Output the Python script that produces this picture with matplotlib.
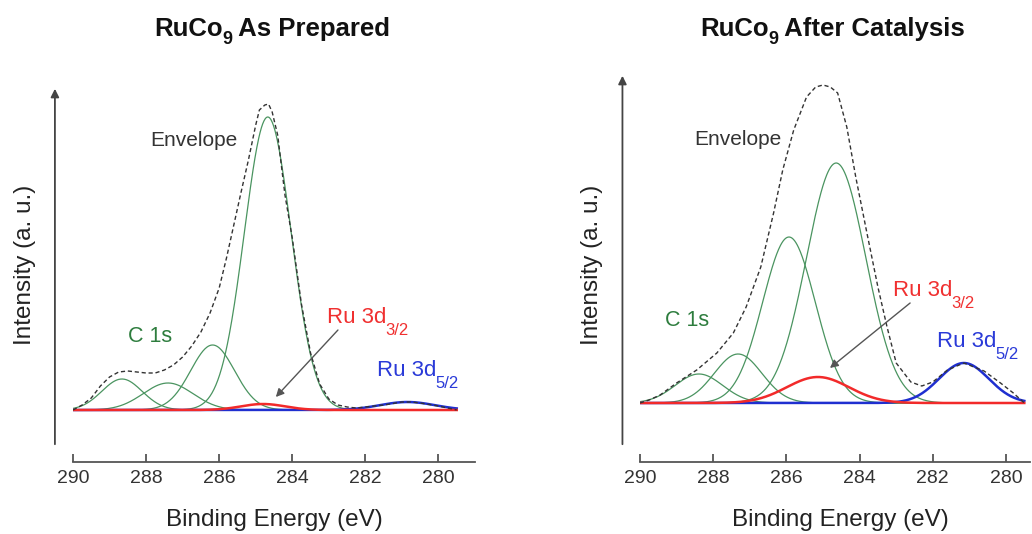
import numpy as np
import matplotlib
matplotlib.use('Agg')
import matplotlib.pyplot as plt

plt.rcParams['font.family'] = ['Liberation Sans', 'DejaVu Sans']

# fitted components: centre (eV), height (a.u.), gaussian sigma (eV)
left_c1s_center = [288.66, 287.40, 286.18, 284.67]
left_c1s_height = [31, 27, 65, 293]
left_c1s_sigma = [0.55, 0.68, 0.60, 0.64]
left_ru32 = (284.80, 6, 0.60)
left_ru52 = (280.85, 8, 0.75)

right_c1s_center = [288.39, 287.32, 285.93, 284.64]
right_c1s_height = [29, 49, 166, 240]
right_c1s_sigma = [0.65, 0.65, 0.72, 0.81]
right_ru32 = (285.14, 26, 0.85)
right_ru52 = (281.15, 40, 0.68)

# envelope
left_env_e = [290.0, 289.75, 289.5, 289.25, 289.0, 288.75, 288.5, 288.25, 288.0, 287.75,
              287.5, 287.25, 287.0, 286.75, 286.5, 286.25, 286.0, 285.8, 285.6, 285.4,
              285.2, 285.0, 284.9, 284.75, 284.65, 284.55, 284.4, 284.2, 284.0, 283.75,
              283.5, 283.25, 283.0, 282.75, 282.5, 282.25, 282.0, 281.5, 281.0, 280.75,
              280.5, 280.0, 279.5]
left_env_i = [0, 5, 12, 24, 33, 38, 39, 38, 37, 37,
              40, 45, 53, 64, 78, 97, 122, 152, 185, 218,
              250, 285, 300, 305, 306, 298, 275, 215, 172, 106,
              57, 26, 11, 5, 3, 2, 3, 5, 8, 8,
              7, 4, 0]

right_env_e = [290.0, 289.75, 289.45, 289.0, 288.45, 287.9, 287.45, 287.1, 286.7, 286.35,
               286.1, 285.8, 285.45, 285.2, 285.0, 284.8, 284.6, 284.35, 284.1, 283.8,
               283.5, 283.25, 283.0, 282.6, 282.3, 282.0, 281.6, 281.15, 280.6, 280.15,
               279.8, 279.5]
right_env_i = [0, 3, 8, 20, 33, 50, 70, 96, 136, 190,
               233, 273, 306, 316, 318, 316, 310, 276, 225, 170,
               116, 76, 40, 21, 17, 21, 33, 40, 32, 20,
               10, 0]

ticks = [290, 288, 286, 284, 282, 280]
titles = [('RuCo', '9', ' As Prepared'), ('RuCo', '9', ' After Catalysis')]

GREEN = '#4a9460'
RED = '#f22a2a'
BLUE = '#1f2fd0'
W, H = 1032, 534


def gauss(x, c, h, s):
    return h * np.exp(-(x - c) ** 2 / (2 * s ** 2))


def sub_label(ax, x, y, main, sub, color, size, subsize, drop):
    t = ax.text(x, y, main, fontsize=size, color=color, ha='left', va='baseline')
    ax.annotate(sub, xy=(1, 0), xycoords=t, xytext=(-0.5, -drop), textcoords='offset points',
                fontsize=subsize, color=color, ha='left', va='center')


def panel(ax, centers, heights, sigmas, ru32, ru52, env_e, env_i, xmin, ylim, arrow_top,
          txt, arrow):
    x = np.linspace(290, 279.5, 600)
    for c, h, s in zip(centers, heights, sigmas):
        ax.plot(x, gauss(x, c, h, s), color=GREEN, lw=0.9)
    ax.plot(x, gauss(x, *ru52), color=BLUE, lw=1.8)
    ax.plot(x, gauss(x, *ru32), color=RED, lw=1.8)
    ax.plot(env_e, env_i, color='#333333', lw=1, ls=(0, (3, 2)))

    ax.set_xlim(290, xmin)
    ax.set_ylim(*ylim)
    for s in ['left', 'top', 'right']:
        ax.spines[s].set_visible(False)
    ax.spines['bottom'].set_color('#555555')
    ax.spines['bottom'].set_linewidth(1.3)
    ax.set_yticks([])
    ax.set_xticks(ticks)
    ax.tick_params(axis='x', direction='in', length=6, width=1.3, color='#555555',
                   labelsize=14, labelcolor='#333333', pad=6)

    # y axis drawn as an arrow
    ax.annotate('', xy=(-0.045, arrow_top), xytext=(-0.045, ylim[0] + 15),
                xycoords=('axes fraction', 'data'), textcoords=('axes fraction', 'data'),
                arrowprops=dict(arrowstyle='-|>', color='#444444', lw=1.3, mutation_scale=12),
                annotation_clip=False)

    ax.text(txt['env'][0], txt['env'][1], 'Envelope', fontsize=15, color='#333333',
            ha='center', va='center')
    ax.text(txt['c1s'][0], txt['c1s'][1], 'C 1s', fontsize=15.5, color='#2e7d3e',
            ha='center', va='center')
    sub_label(ax, txt['ru32'][0], txt['ru32'][1], 'Ru 3d', '3/2', '#f03030', 16, 12, 2)
    sub_label(ax, txt['ru52'][0], txt['ru52'][1], 'Ru 3d', '5/2', '#2a3ad8', 16, 12, 2)
    ax.annotate('', xy=arrow[1], xytext=arrow[0],
                arrowprops=dict(arrowstyle='-|>', color='#555555', lw=1,
                                mutation_scale=12, shrinkA=0, shrinkB=0))


fig = plt.figure(figsize=(W / 100, H / 100), dpi=100)
ax1 = fig.add_axes([73 / W, 1 - 462 / H, 402 / W, (462 - 86) / H])
ax2 = fig.add_axes([640 / W, 1 - 462 / H, 390 / W, (462 - 73) / H])

panel(ax1, left_c1s_center, left_c1s_height, left_c1s_sigma, left_ru32, left_ru52,
      left_env_e, left_env_i, 279.0, (-52, 324), 324,
      {'env': (286.69, 270), 'c1s': (287.9, 73), 'ru32': (283.05, 87), 'ru52': (281.68, 34)},
      [(282.75, 80), (284.45, 13)])
panel(ax2, right_c1s_center, right_c1s_height, right_c1s_sigma, right_ru32, right_ru52,
      right_env_e, right_env_i, 290 - 390 / 36.6, (-59, 330), 330,
      {'env': (287.32, 264), 'c1s': (288.72, 83), 'ru32': (283.09, 107), 'ru52': (281.89, 56)},
      [(282.62, 100), (284.81, 35)])

# titles with a dropped subscript, centred after measuring
renderer = fig.canvas.get_renderer()
for xc, (a, b, c) in zip([273, 833], titles):
    t1 = fig.text(0, 1 - 36 / H, a, fontsize=18.5, fontweight='bold', ha='left',
                  va='baseline', color='#111111')
    t2 = fig.text(0, 1 - 40 / H, b, fontsize=13, fontweight='bold', ha='left',
                  va='center', color='#111111')
    t3 = fig.text(0, 1 - 36 / H, c, fontsize=18.5, fontweight='bold', ha='left',
                  va='baseline', color='#111111')
    w1 = t1.get_window_extent(renderer).width
    w2 = t2.get_window_extent(renderer).width
    w3 = t3.get_window_extent(renderer).width
    x0 = xc - (w1 + w2 + w3) / 2
    t1.set_x(x0 / W)
    t2.set_x((x0 + w1 - 1) / W)
    t3.set_x((x0 + w1 + w2 - 1) / W)

for xc in [274, 840]:
    fig.text(xc / W, 1 - 520 / H, 'Binding Energy (eV)', fontsize=17.5, ha='center',
             va='center', color='#222222')
for xc in [25, 592]:
    fig.text(xc / W, 1 - 265 / H, 'Intensity (a. u.)', fontsize=17.5, ha='center',
             va='center', rotation=90, color='#222222')

fig.savefig('out.png', dpi=100, facecolor='white')
